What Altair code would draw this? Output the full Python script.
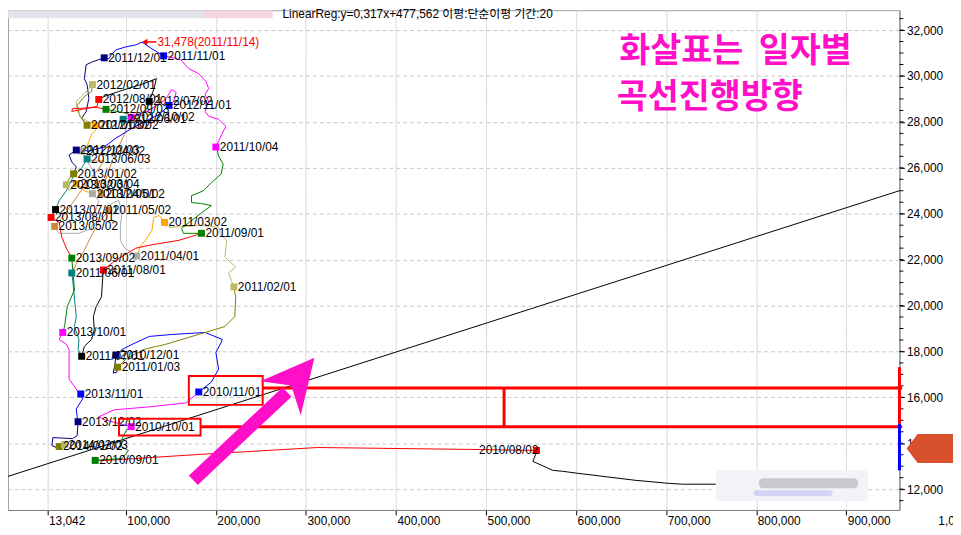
import altair as alt
import pandas as pd

FONT = "Liberation Sans, Noto Sans CJK KR, sans-serif"
KFONT = "Noto Sans CJK KR"

# ---------------- data (x = volume in thousands, y = price) ----------------
seg_month = ["2010/07", "2010/08", "2010/09", "2010/10", "2010/11", "2010/12",
             "2011/01", "2011/02", "2011/03", "2011/04", "2011/05", "2011/06",
             "2011/07", "2011/08", "2011/09", "2011/10", "2011/11", "2011/12",
             "2012/01", "2012/02", "2012/03", "2012/04", "2012/05", "2012/06",
             "2012/07", "2012/08", "2012/09", "2012/10", "2012/11", "2012/12",
             "2013/01", "2013/02", "2013/03", "2013/04", "2013/05", "2013/06",
             "2013/07", "2013/08", "2013/09", "2013/10", "2013/11", "2013/12",
             "2014/01"]

seg_x = [
    [841, 761, 718, 701, 665, 602, 585, 574, 552, 555, 556],
    [556, 489, 401, 313, 181, 78, 66],
    [66, 96, 103, 95, 96, 101, 106],
    [106, 76, 70, 87, 126, 167, 181],
    [181, 195, 203, 200, 206, 207, 188, 151, 126, 107, 96, 89],
    [89, 88, 86, 90, 91],
    [91, 100, 120, 144, 188, 210, 221, 222, 220],
    [220, 214, 222, 210, 212, 206, 203, 184, 148, 143],
    [143, 137, 131, 129, 122, 117, 112],
    [112, 98, 94, 94, 96, 92, 84, 81],
    [81, 70, 62, 54, 46, 40],
    [40, 41, 45, 43, 48, 47, 51],
    [51, 54, 62, 65, 64, 67, 73, 74, 75],
    [75, 89, 111, 126, 159, 177, 184],
    [184, 164, 162, 173, 195, 184, 173, 173, 186, 195, 206, 208, 203, 201, 200],
    [200, 203, 211, 203, 192, 188, 192, 188, 192, 189, 181, 170, 161, 148, 142],
    [142, 129, 118, 111, 100, 89, 84, 81, 76],
    [76, 63, 56, 54, 57, 59, 56, 51, 57],
    [57, 49, 46, 54, 62, 63],
    [63, 54, 45, 46, 52, 66],
    [66, 67, 62, 59, 57, 51],
    [51, 57, 65, 70, 73],
    [73, 79, 87, 95, 100, 97],
    [97, 112, 123, 126],
    [126, 131, 134, 120, 92, 76, 70],
    [70, 68, 52, 40, 41, 48, 67, 78],
    [78, 101, 114, 106],
    [106, 126, 144, 151, 156, 153, 148],
    [148, 137, 122, 107, 89, 76, 59, 45],
    [45, 37, 40, 45, 42],
    [42, 37, 34],
    [34, 37, 45],
    [45, 54, 63],
    [63, 70, 65, 62, 48, 26, 21],
    [21, 35, 52, 68, 76, 65, 57],
    [57, 51, 41, 34, 26, 22],
    [22, 17],
    [17, 26, 29, 34, 40],
    [40, 43, 35, 32, 30],
    [30, 26, 34, 37, 37, 41, 48, 50],
    [50, 52, 45, 46, 47],
    [47, 46, 41, 19, 18, 23, 26],
    [26, 32],
]

seg_y = [
    [12216, 12216, 12216, 12259, 12389, 12691, 12778, 12821, 13210, 13512, 13685],
    [13685, 13728, 13771, 13814, 13512, 13253, 13253],
    [13253, 13339, 13685, 13858, 14203, 14592, 14722],
    [14722, 15024, 15154, 15456, 15586, 15758, 16234],
    [16234, 16666, 17227, 17962, 18394, 18523, 18826, 18739, 18653, 18307, 18091, 17832],
    [17832, 17443, 17054, 17098, 17314],
    [17314, 17659, 18091, 18307, 18826, 19085, 19517, 20381, 20813],
    [20813, 21418, 21677, 22109, 22843, 23059, 23405, 23491, 23405, 23621],
    [23621, 23923, 23837, 23275, 22843, 22627, 22152],
    [22152, 22541, 22843, 23491, 24053, 24571, 24442, 24139],
    [24139, 23621, 23059, 22411, 21893, 21418],
    [21418, 21115, 19517, 19085, 18523, 18091, 17789],
    [17789, 18221, 18523, 18955, 19517, 19949, 20381, 20986, 21547],
    [21547, 21979, 22498, 22627, 22843, 23059, 23146],
    [23146, 23146, 23362, 23707, 24355, 24442, 24485, 24787, 24995, 25349, 25738, 26170, 26515, 26861, 26904],
    [26904, 27163, 27811, 28114, 28243, 28459, 28891, 29194, 29453, 29755, 30101, 30317, 30706, 30835, 30878],
    [30878, 31181, 31478, 31354, 31267, 31138, 30922, 30749, 30792],
    [30792, 30619, 30490, 29885, 29626, 29021, 28459, 28157, 27854],
    [27854, 28243, 28718, 29107, 29323, 29626],
    [29626, 29237, 28891, 28459, 28157, 27854],
    [27854, 27682, 27466, 27163, 26947, 26731],
    [26731, 26299, 25781, 25219, 24874],
    [24874, 25651, 26515, 27163, 27595, 28114],
    [28114, 28243, 28546, 28891],
    [28891, 29410, 29885, 29669, 29323, 29107, 28978],
    [28978, 28675, 28546, 28459, 28589, 28589, 28632, 28546],
    [28546, 28373, 28114, 28200],
    [28200, 28503, 28978, 29410, 29280, 28891, 28718],
    [28718, 28330, 28027, 27724, 27292, 26904, 26731, 26774],
    [26774, 26558, 26256, 26040, 25738],
    [25738, 25522, 25262],
    [25262, 25003, 25306],
    [25306, 25003, 24874],
    [24874, 24571, 23923, 23362, 23146, 23146, 23448],
    [23448, 24139, 25090, 25868, 26299, 26299, 26386],
    [26386, 25997, 25565, 25003, 24571, 24182],
    [24182, 23837],
    [23837, 23621, 22973, 22498, 22066],
    [22066, 20683, 19949, 19085, 18826],
    [18826, 18523, 18307, 18091, 16795, 16579, 16190, 16147],
    [16147, 15931, 15499, 15154, 14938],
    [14938, 14333, 14203, 14246, 13901, 13814, 13858],
    [13858, 13944],
]

marker_label = ["2010/08/02", "2010/09/01", "2010/10/01", "2010/11/01", "2010/12/01",
                "2011/01/03", "2011/02/01", "2011/03/02", "2011/04/01", "2011/05/02",
                "2011/06/01", "2011/07/01", "2011/08/01", "2011/09/01", "2011/10/04",
                "2011/11/01", "2011/12/01", "2012/01/02", "2012/02/01", "2012/03/02",
                "2012/04/02", "2012/05/02", "2012/06/01", "2012/07/02", "2012/08/01",
                "2012/09/03", "2012/10/02", "2012/11/01", "2012/12/03", "2013/01/02",
                "2013/02/01", "2013/03/04", "2013/04/01", "2013/05/02", "2013/06/03",
                "2013/07/01", "2013/08/01", "2013/09/02", "2013/10/01", "2013/11/01",
                "2013/12/02", "2014/01/02", "2014/02/03"]
marker_x = [556, 66, 106, 181, 89, 91, 220, 143, 112, 81, 40, 51, 75, 184, 200, 142, 76,
            57, 63, 66, 51, 73, 97, 126, 70, 78, 106, 148, 45, 42, 34, 45, 63, 21, 57,
            22, 17, 40, 30, 50, 47, 26, 32]
marker_y = [13685, 13253, 14722, 16234, 17832, 17314, 20813, 23621, 22152, 24139, 21418,
            17789, 21547, 23146, 26904, 30878, 30792, 27854, 29626, 27854, 26731, 24874,
            28114, 28891, 28978, 28546, 28200, 28718, 26774, 25738, 25262, 25306, 24874,
            23448, 26386, 24182, 23837, 22066, 18826, 16147, 14938, 13858, 13944]

reg_x = [-30.8, 959]
reg_y = [12557, 25003]

x_ticks = [13.042, 100, 200, 300, 400, 500, 600, 700, 800, 900]
y_ticks = [12000, 14000, 16000, 18000, 20000, 22000, 24000, 26000, 28000, 30000, 32000]
y_minor = [v for v in range(11500, 33000, 500)]

peak_text = "31,478(2011/11/14)"
peak_x, peak_y = 134, 31483

month_colors = {1: "#808000", 2: "#bdb76b", 3: "#ffa500", 4: "#a9a9a9", 5: "#cd853f",
                6: "#008080", 7: "#000000", 8: "#ff0000", 9: "#008000", 10: "#ff00ff",
                11: "#0000ff", 12: "#000080"}

# ---------------- tables ----------------
rows = []
for i, (m, xs, ys) in enumerate(zip(seg_month, seg_x, seg_y)):
    c = month_colors[int(m[5:7])]
    for j, (a, b) in enumerate(zip(xs, ys)):
        rows.append({"seg": i, "ord": j, "x": a, "y": b, "color": c})
path_df = pd.DataFrame(rows)

mk_df = pd.DataFrame({"label": marker_label, "x": marker_x, "y": marker_y,
                      "color": [month_colors[int(s[5:7])] for s in marker_label]})

XS = alt.Scale(domain=[-30.8, 959], nice=False, zero=False)
YS = alt.Scale(domain=[11093, 32866], nice=False, zero=False)

XAX = alt.Axis(
    values=x_ticks, labelExpr="format(datum.value*1000, ',')", title=None,
    grid=True, gridColor="#d4d4d4", gridWidth=1, gridDash=[1, 0], tickSize=5,
    tickColor="#000000", labelAlign="left", labelPadding=1, labelFlush=False,
    labelOverlap=False, labelColor="#000000", labelFontSize=12, labelFont=FONT,
    domainColor="#808080", labelOffset=1)
YAX = alt.Axis(
    values=y_ticks, labelExpr="format(datum.value, ',')", orient="right", title=None,
    grid=True, gridColor="#c8c8c8", gridDash=[4, 3], tickSize=5, tickColor="#000000",
    labelPadding=2, labelColor="#000000", labelFontSize=12, labelFont=FONT,
    domainColor="#808080", labelOverlap=False, labelFlush=False)


def ex(f="x"):
    return alt.X(f"{f}:Q", scale=XS, axis=XAX)


def ey(f="y"):
    return alt.Y(f"{f}:Q", scale=YS, axis=YAX)


TXT = dict(fontSize=12, font=FONT)

# header blur
hdr = alt.Chart(pd.DataFrame({"x": [-30.8, 186], "x2": [186, 263], "y": [32866, 32866],
                              "y2": [32520, 32520], "c": ["#e2e0ea", "#f2d2da"]})).mark_rect(
    opacity=0.9).encode(x=ex(), x2="x2", y=ey(), y2="y2", color=alt.Color("c:N", scale=None))

# regression line
reg = alt.Chart(pd.DataFrame({"x": reg_x, "y": reg_y})).mark_line(
    color="black", strokeWidth=1).encode(x=ex(), y=ey())

minor = alt.Chart(pd.DataFrame({"y": y_minor, "x": [959] * len(y_minor),
                                "x2": [963.4] * len(y_minor)})).mark_rule(
    color="#000000", strokeWidth=1).encode(x=ex(), x2="x2", y=ey())

last_lbl = alt.Chart(pd.DataFrame({"x": [1000], "y": [10600], "t": ["1,000,000"]})).mark_text(
    align="left", baseline="middle", dx=2, color="#000", **TXT).encode(
    x=ex(), y=ey(), text="t:N")

# blurred box bottom right (drawn over the start of the path)
blur = alt.Chart(pd.DataFrame({
    "x": [755, 803, 797], "x2": [924, 913, 885],
    "y": [12821, 12475, 11957], "y2": [11482, 12043, 11698],
    "c": ["#f3f3f7", "#a4a4ac", "#b8b8f2"], "o": [1.0, 0.55, 0.55]})).mark_rect(
    cornerRadius=4).encode(x=ex(), x2="x2", y=ey(), y2="y2",
                           color=alt.Color("c:N", scale=None), opacity=alt.Opacity("o:Q", scale=None))

# trajectory
path = alt.Chart(path_df).mark_line(strokeWidth=1).encode(
    x=ex(), y=ey(), detail="seg:N", order="ord:Q", color=alt.Color("color:N", scale=None))

marks = alt.Chart(mk_df).mark_square(size=49, opacity=1).encode(
    x=ex(), y=ey(), color=alt.Color("color:N", scale=None))

labels_r = alt.Chart(mk_df).transform_filter(alt.datum.label != "2010/08/02").mark_text(
    align="left", baseline="middle", dx=4, color="#000000", **TXT).encode(
    x=ex(), y=ey(), text="label:N")
labels_l = alt.Chart(mk_df).transform_filter(alt.datum.label == "2010/08/02").mark_text(
    align="right", baseline="middle", dx=2, color="#000000", **TXT).encode(
    x=ex(), y=ey(), text="label:N")

# peak annotation
peak_txt = alt.Chart(pd.DataFrame({"x": [peak_x], "y": [peak_y], "t": [peak_text]})).mark_text(
    align="left", baseline="middle", dx=1, color="#ff0000", **TXT).encode(
    x=ex(), y=ey(), text="t:N")
peak_line = alt.Chart(pd.DataFrame({"x": [121], "x2": [peak_x], "y": [peak_y]})).mark_rule(
    color="#ff0000", strokeWidth=1.5).encode(x=ex(), x2="x2", y=ey())
peak_head = alt.Chart(pd.DataFrame({"x": [121], "y": [peak_y]})).mark_point(
    shape="triangle-left", size=40, filled=True, color="#ff0000", opacity=1).encode(x=ex(), y=ey())

# regression label
reg_lbl = alt.Chart(pd.DataFrame({"x": [274], "y": [32680],
                                  "t": ["LinearReg:y=0,317x+477,562 이평:단순이평 기간:20"]})).mark_text(
    align="left", baseline="middle", color="#000000", **TXT).encode(
    x=ex(), y=ey(), text="t:N")

# red annotation boxes and lines
boxes = alt.Chart(pd.DataFrame({"x": [170, 92.5], "x2": [252, 183],
                                "y": [16925, 15067], "y2": [15672, 14333]})).mark_rect(
    fillOpacity=0, stroke="#ff0000", strokeWidth=2).encode(x=ex(), x2="x2", y=ey(), y2="y2")
hlines = alt.Chart(pd.DataFrame({"x": [252, 183], "x2": [962, 962],
                                 "y": [16406, 14722]})).mark_rule(
    color="#ff0000", strokeWidth=3).encode(x=ex(), x2="x2", y=ey())
vline = alt.Chart(pd.DataFrame({"x": [520], "y": [16406], "y2": [14722]})).mark_rule(
    color="#ff0000", strokeWidth=3).encode(x=ex(), y=ey(), y2="y2")
edge = alt.Chart(pd.DataFrame({"x": [959, 959], "y": [17314, 14851], "y2": [14851, 12821],
                               "c": ["#ff0000", "#0000ff"]})).mark_rule(strokeWidth=3).encode(
    x=ex(), y=ey(), y2="y2", color=alt.Color("c:N", scale=None))
pointer = alt.Chart(pd.DataFrame({"x": [994], "y": [13771]})).mark_point(
    shape="M-1,0L-0.55,-0.6L1,-0.6L1,0.6L-0.55,0.6Z", size=2400, filled=True,
    color="#d8502c", opacity=1).encode(x=ex(), y=ey())

# magenta arrow
shaft = alt.Chart(pd.DataFrame({"x": [175], "x2": [279], "y": [12389], "y2": [16234]})).mark_rule(
    color="#ff10c8", strokeWidth=13).encode(x=ex(), x2="x2", y=ey(), y2="y2")
head = alt.Chart(pd.DataFrame({"x": [289.6], "y": [16795]})).mark_point(
    shape="M0,-1L0.95,0.9L0,0.3L-0.95,0.9Z", size=3136, angle=40, filled=True,
    color="#ff10c8", opacity=1).encode(x=ex(), y=ey())

ktxt = alt.Chart(pd.DataFrame({"x": [648, 645], "y": [31051, 29021],
                               "t": ["화살표는\u00a0 일자별", "곡선진행방향"]})).mark_text(
    align="left", baseline="middle", fontSize=34, font=KFONT, fontWeight="bold",
    color="#ff10c8").encode(x=ex(), y=ey(), text="t:N")

chart = alt.layer(
    hdr, reg, minor, last_lbl, path, blur, marks, labels_r, labels_l,
    peak_line, peak_head, peak_txt, reg_lbl, boxes, hlines, vline, edge, pointer,
    shaft, head, ktxt
).properties(
    width=899, height=504,
    padding={"left": 0, "top": 0, "right": 54, "bottom": 23},
    autosize=alt.AutoSizeParams(type="none"),
).configure_view(stroke="#a0a0a0")

chart.save("out.html", embed_options={"renderer": "svg", "actions": False})
